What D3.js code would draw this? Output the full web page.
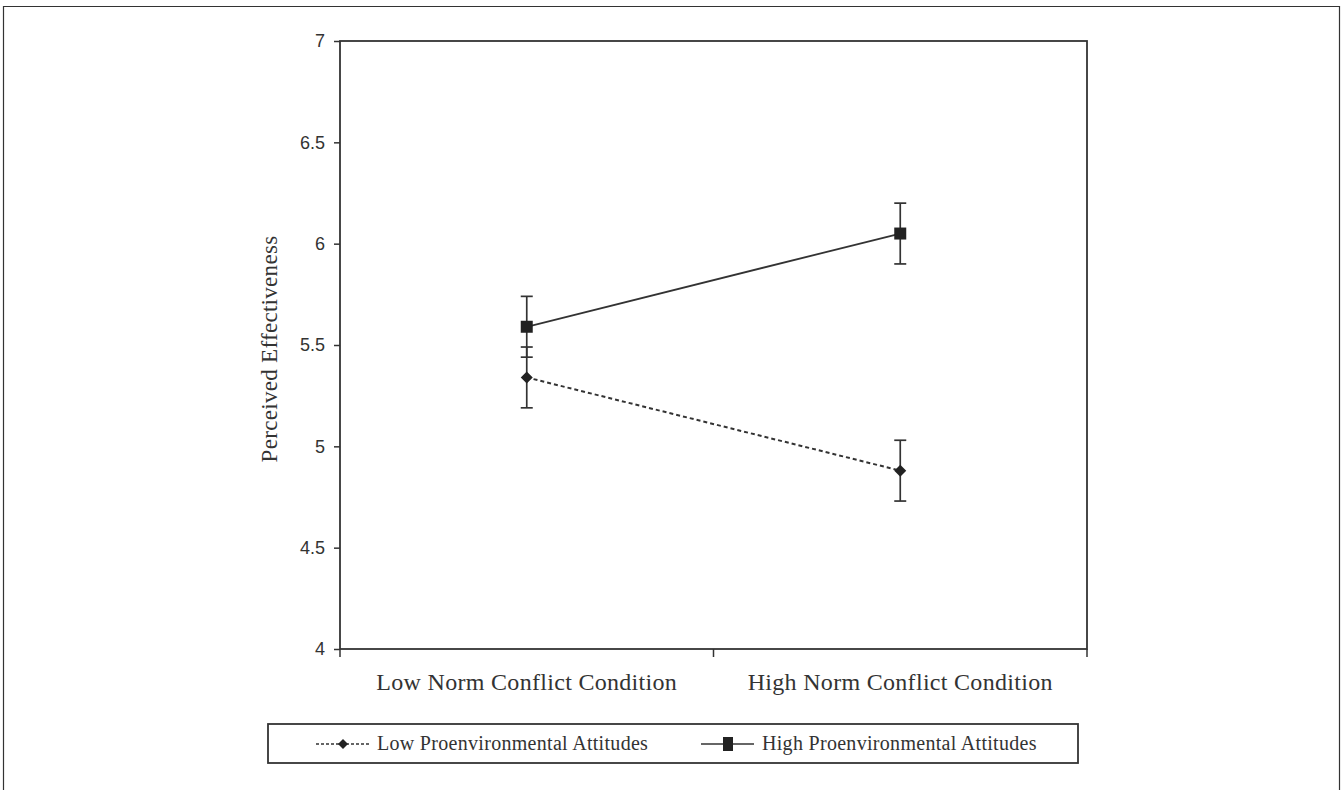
<!DOCTYPE html>
<html>
<head>
<meta charset="utf-8">
<script src="https://cdn.jsdelivr.net/npm/d3@7"></script>
<style>
  body { margin: 0; background: #fff; }
  svg { display: block; }
</style>
</head>
<body>
<svg id="chart" width="1343" height="790"></svg>
<script>
const conditions = ["Low Norm Conflict Condition", "High Norm Conflict Condition"];
const yTicks = [4, 4.5, 5, 5.5, 6, 6.5, 7];
const lowAttMeans = [5.34, 4.88];
const lowAttErr = [0.15, 0.15];
const highAttMeans = [5.59, 6.05];
const highAttErr = [0.15, 0.15];
const seriesNames = ["Low Proenvironmental Attitudes", "High Proenvironmental Attitudes"];

const ink = "#333";
const serif = "'Liberation Serif', 'Times New Roman', serif";
const svg = d3.select("#chart");

// outer frame (no bottom edge visible)
svg.append("path")
    .attr("d", "M3.5,790 V6.5 H1339.5 V790")
    .attr("fill", "none")
    .attr("stroke", ink)
    .attr("stroke-width", 1.2);

const plotL = 340, plotR = 1087, plotT = 41, plotB = 649;

const x = d3.scaleBand().domain(conditions).range([plotL, plotR]);
const y = d3.scaleLinear().domain([4, 7]).range([plotB, plotT]);

// plot box
svg.append("rect")
    .attr("x", plotL).attr("y", plotT)
    .attr("width", plotR - plotL).attr("height", plotB - plotT)
    .attr("fill", "none").attr("stroke", ink).attr("stroke-width", 1.8);

// y axis
const yAxis = svg.append("g")
    .attr("transform", `translate(${plotL},0)`)
    .call(d3.axisLeft(y).tickValues(yTicks).tickSize(6).tickPadding(9)
        .tickFormat(d => String(d)));
yAxis.select(".domain").remove();
yAxis.selectAll("line").attr("stroke", ink).attr("stroke-width", 1.5);
yAxis.selectAll("text")
    .attr("fill", ink)
    .style("font-family", "'Liberation Sans', Arial, sans-serif")
    .style("font-size", "18px");

// x axis ticks at band boundaries
const bounds = [plotL, plotL + x.bandwidth(), plotR];
svg.selectAll(".xtick").data(bounds).join("line")
    .attr("x1", d => d).attr("x2", d => d)
    .attr("y1", plotB).attr("y2", plotB + 8)
    .attr("stroke", ink).attr("stroke-width", 1.5);

svg.selectAll(".xlabel").data(conditions).join("text")
    .attr("x", d => x(d) + x.bandwidth() / 2)
    .attr("y", 690)
    .attr("text-anchor", "middle")
    .attr("fill", ink)
    .style("font-family", serif)
    .style("font-size", "24px")
    .style("letter-spacing", "0.3px")
    .text(d => d);

// y label
svg.append("text")
    .attr("transform", `translate(277,${(plotT + plotB) / 2 + 4}) rotate(-90)`)
    .attr("text-anchor", "middle")
    .attr("fill", ink)
    .style("font-family", serif)
    .style("font-size", "23px")
    .style("letter-spacing", "0.3px")
    .text("Perceived Effectiveness");

const cx = d => x(d) + x.bandwidth() / 2;

function drawSeries(means, errs, dashed, marker) {
    const pts = conditions.map((c, i) => ({ c, m: means[i], e: errs[i] }));
    svg.append("path")
        .datum(pts)
        .attr("d", d3.line().x(d => cx(d.c)).y(d => y(d.m)))
        .attr("fill", "none")
        .attr("stroke", ink)
        .attr("stroke-width", dashed ? 2 : 1.8)
        .attr("stroke-dasharray", dashed ? "4,3" : null);

    const g = svg.append("g");
    pts.forEach(p => {
        const px = cx(p.c);
        g.append("line")
            .attr("x1", px).attr("x2", px)
            .attr("y1", y(p.m + p.e)).attr("y2", y(p.m - p.e))
            .attr("stroke", ink).attr("stroke-width", 1.7);
        [p.m + p.e, p.m - p.e].forEach(v => {
            g.append("line")
                .attr("x1", px - 6).attr("x2", px + 6)
                .attr("y1", y(v)).attr("y2", y(v))
                .attr("stroke", ink).attr("stroke-width", 1.7);
        });
        g.append("path")
            .attr("transform", `translate(${px},${y(p.m)})`)
            .attr("d", marker === "square" ? "M-6,-6H6V6H-6Z" : "M0,-6L6,0L0,6L-6,0Z")
            .attr("fill", "#222");
    });
}

drawSeries(lowAttMeans, lowAttErr, true, "diamond");
drawSeries(highAttMeans, highAttErr, false, "square");

// legend
const lg = svg.append("g");
lg.append("rect")
    .attr("x", 268).attr("y", 724).attr("width", 810).attr("height", 39)
    .attr("fill", "none").attr("stroke", ink).attr("stroke-width", 1.8);

const legendItems = [
    { name: seriesNames[0], x1: 316, mx: 343, x2: 370, dashed: true, marker: "diamond", tx: 377 },
    { name: seriesNames[1], x1: 701, mx: 728, x2: 754, dashed: false, marker: "square", tx: 762 }
];
legendItems.forEach(it => {
    const ly = 744;
    lg.append("line")
        .attr("x1", it.x1).attr("x2", it.x2)
        .attr("y1", ly).attr("y2", ly)
        .attr("stroke", ink).attr("stroke-width", 1.5)
        .attr("stroke-dasharray", it.dashed ? "3,2" : null);
    lg.append("path")
        .attr("transform", `translate(${it.mx},${ly})`)
        .attr("d", it.marker === "square" ? "M-5,-7H5V7H-5Z" : "M0,-5L5,0L0,5L-5,0Z")
        .attr("fill", "#222");
    lg.append("text")
        .attr("x", it.tx).attr("y", ly + 6)
        .attr("fill", ink)
        .style("font-family", serif)
        .style("font-size", "20px")
        .style("letter-spacing", "0.3px")
        .text(it.name);
});
</script>
</body>
</html>
